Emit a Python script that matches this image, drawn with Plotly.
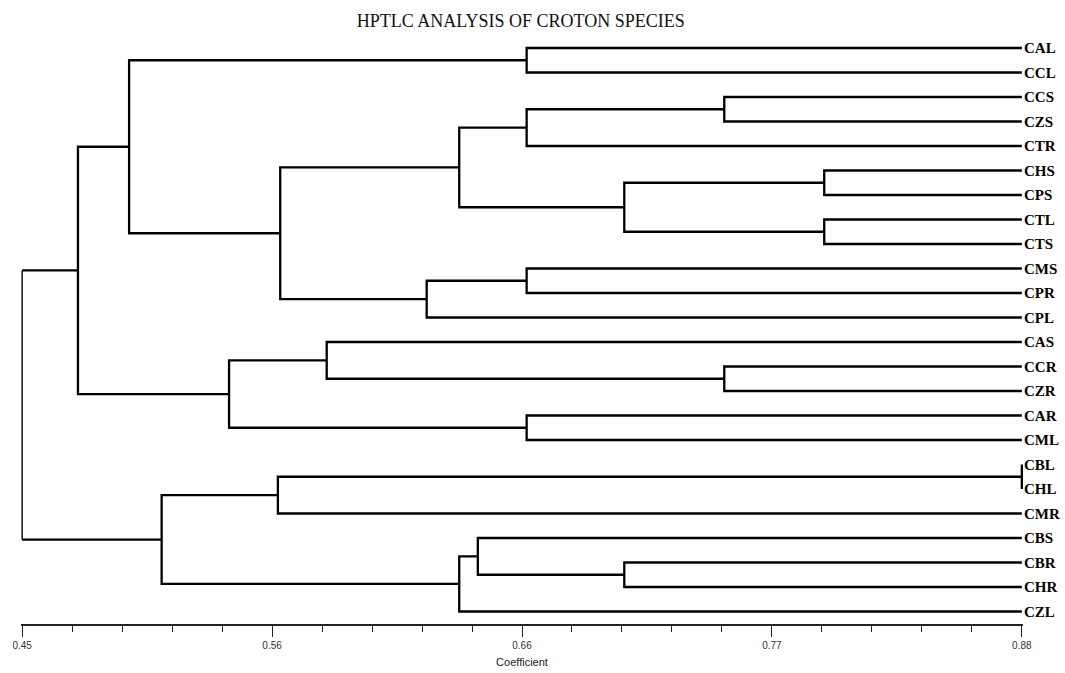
import plotly.graph_objects as go

# Leaf order (top to bottom)
leaves = ["CAL", "CCL", "CCS", "CZS", "CTR", "CHS", "CPS", "CTL", "CTS",
          "CMS", "CPR", "CPL", "CAS", "CCR", "CZR", "CAR", "CML",
          "CBL", "CHL", "CMR", "CBS", "CBR", "CHR", "CZL"]

# Merge table: children are leaf names or indices of earlier merges
merge_left = ["CBL", "CHS", "CTL", "CCS", "CCR", "CBR", 1, "CAL", 3, "CMS",
              "CAR", "CBS", 8, 11, 9, "CAS", 12, 0, 15, 17, 7, 20, 21]
merge_right = ["CHL", "CPS", "CTS", "CZS", "CZR", "CHR", 2, "CCL", "CTR", "CPR",
               "CML", 5, 6, "CZL", "CPL", 4, 14, "CMR", 10, 13, 16, 18, 19]
merge_coef = [0.880, 0.795, 0.795, 0.752, 0.752, 0.709, 0.709, 0.667, 0.667, 0.667,
              0.667, 0.646, 0.638, 0.638, 0.624, 0.581, 0.561, 0.560, 0.539, 0.510,
              0.496, 0.474, 0.450]

# Axis ticks
major_vals = [0.45, 0.5575, 0.665, 0.7725, 0.88]
major_text = ["0.45", "0.56", "0.66", "0.77", "0.88"]
minor_step = 0.0215
x_min, x_max = 0.45, 0.88

pos = {name: (x_max, i) for i, name in enumerate(leaves)}
nodes = []

def get(c):
    return pos[c] if isinstance(c, str) else nodes[c]

xs, ys = [], []
rx, ry = [], []
n = len(merge_coef)
for k, (l, r, h) in enumerate(zip(merge_left, merge_right, merge_coef)):
    (xl, yl), (xr, yr) = get(l), get(r)
    if k == n - 1:
        xs += [xl, h, None, h, xr, None]
        ys += [yl, yl, None, yr, yr, None]
        rx += [h, h, None]
        ry += [yl, yr, None]
    else:
        xs += [xl, h, h, xr, None]
        ys += [yl, yl, yr, yr, None]
    nodes.append((h, (yl + yr) / 2))

fig = go.Figure()
fig.add_trace(go.Scatter(x=xs, y=ys, mode="lines",
                         line=dict(color="black", width=2.3),
                         hoverinfo="skip", showlegend=False))
fig.add_trace(go.Scatter(x=rx, y=ry, mode="lines",
                         line=dict(color="black", width=1.4),
                         hoverinfo="skip", showlegend=False))

fig.update_layout(
    width=1065, height=673,
    margin=dict(l=21, r=42, t=35, b=49, autoexpand=False),
    paper_bgcolor="white", plot_bgcolor="white",
    title=dict(text="HPTLC ANALYSIS OF CROTON SPECIES",
               x=0.489, xanchor="center", y=0.969, yanchor="middle",
               font=dict(family="Liberation Serif", size=18, color="#111")),
    xaxis=dict(range=[x_min - 0.0005, x_max + 0.0005], automargin=False,
               tickmode="array", tickvals=major_vals, ticktext=major_text,
               ticks="outside", ticklen=11, tickwidth=1.2, tickcolor="#222",
               minor=dict(tick0=x_min, dtick=minor_step, ticks="outside",
                          ticklen=6, tickwidth=1.2, tickcolor="#222", showgrid=False),
               showline=True, linecolor="#222", linewidth=1.5,
               showgrid=False, zeroline=False,
               tickfont=dict(family="Liberation Sans", size=10, color="#333"),
               title=dict(text="Coefficient", standoff=9,
                          font=dict(family="Liberation Sans", size=11, color="#222"))),
    yaxis=dict(range=[23.51, -0.53], side="right", automargin=False,
               tickmode="array", tickvals=list(range(len(leaves))), ticktext=leaves,
               ticks="", showline=False, showgrid=False, zeroline=False,
               tickfont=dict(family="Liberation Serif", size=15, color="black",
                             weight="bold")),
)

fig.write_html("out.html", config={"displayModeBar": False},
               post_script="document.body.style.margin='0';document.body.style.overflow='hidden';")
